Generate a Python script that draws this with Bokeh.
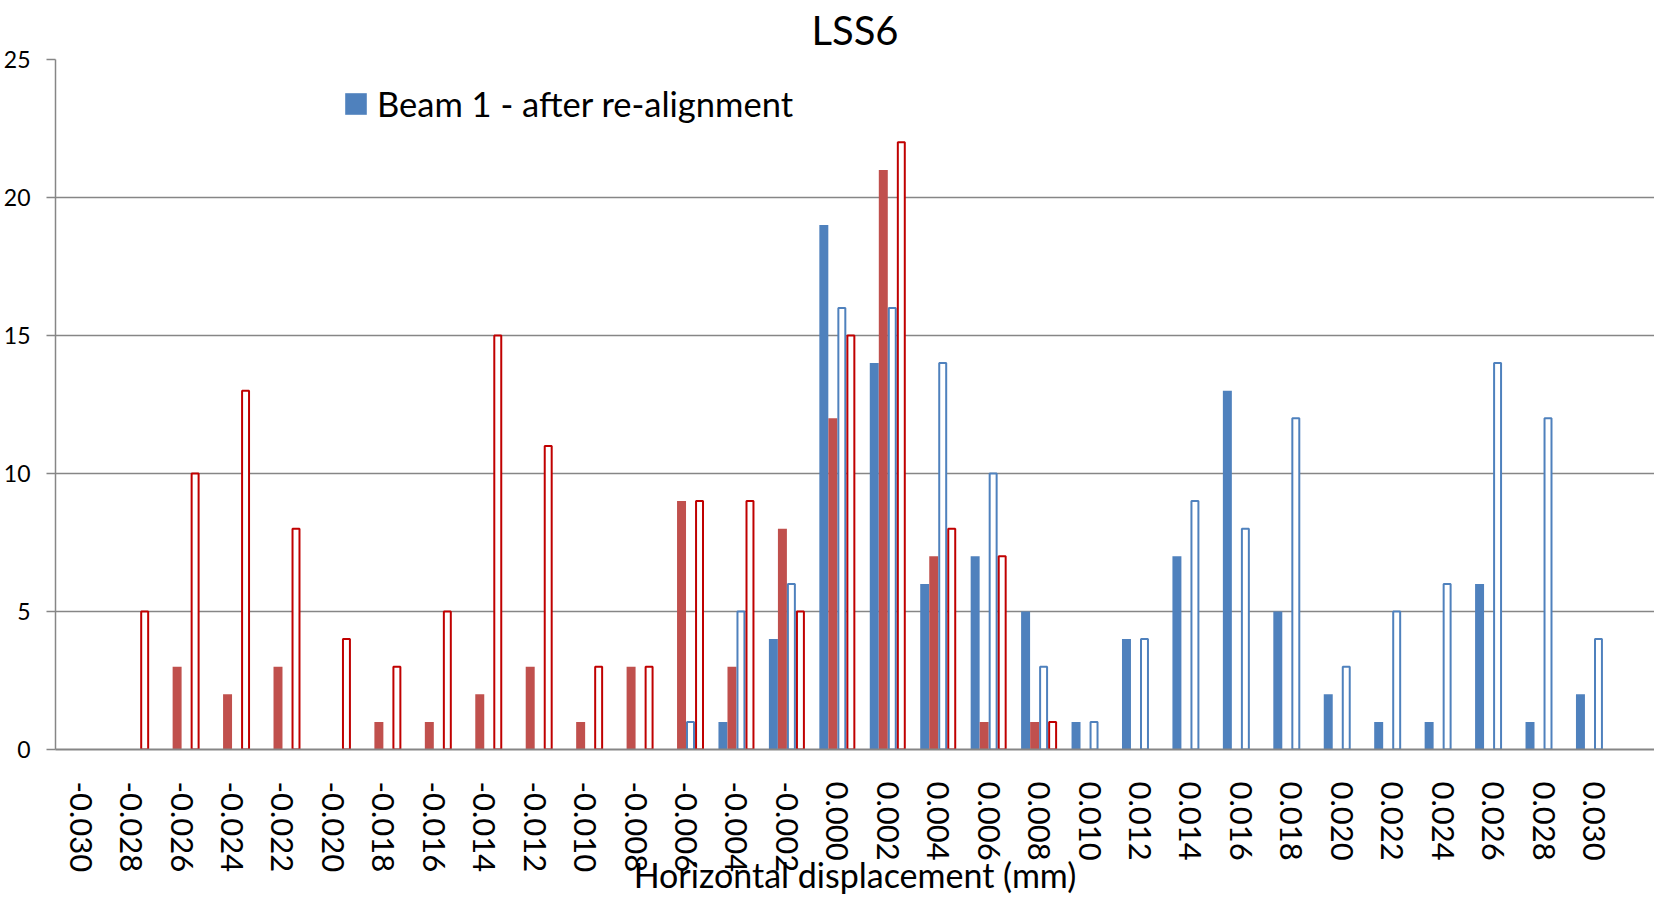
from bokeh.plotting import figure
from bokeh.models import ColumnDataSource, Range1d, FixedTicker, Legend
from bokeh.transform import dodge
from bokeh.embed import file_html
from bokeh.resources import INLINE

# ---- data -------------------------------------------------------------
categories = ["-0.030", "-0.028", "-0.026", "-0.024", "-0.022", "-0.020", "-0.018",
              "-0.016", "-0.014", "-0.012", "-0.010", "-0.008", "-0.006", "-0.004",
              "-0.002", "0.000", "0.002", "0.004", "0.006", "0.008", "0.010", "0.012",
              "0.014", "0.016", "0.018", "0.020", "0.022", "0.024", "0.026", "0.028",
              "0.030"]

beam1_after = [0, 0, 0, 0, 0, 0, 0, 0, 0, 0, 0, 0, 0, 1, 4, 19, 14, 6, 7, 5, 1, 4,
               7, 13, 5, 2, 1, 1, 6, 1, 2]
red_filled = [0, 0, 3, 2, 3, 0, 1, 1, 2, 3, 1, 3, 9, 3, 8, 12, 21, 7, 1, 1, 0, 0,
              0, 0, 0, 0, 0, 0, 0, 0, 0]
blue_outline = [0, 0, 0, 0, 0, 0, 0, 0, 0, 0, 0, 0, 1, 5, 6, 16, 16, 14, 10, 3, 1, 4,
                9, 8, 12, 3, 5, 6, 14, 12, 4]
red_outline = [0, 5, 10, 13, 8, 4, 3, 5, 15, 11, 3, 3, 9, 9, 5, 15, 22, 8, 7, 1, 0, 0,
               0, 0, 0, 0, 0, 0, 0, 0, 0]

y_ticks = [0, 5, 10, 15, 20, 25]
legend_text = "Beam 1 - after re-alignment"
title_text = "LSS6"
x_title = "Horizontal displacement (mm)"

FONT = "Lato"
positions = list(range(len(categories)))


def nonzero(vals):
    idx = [i for i, v in zip(positions, vals) if v > 0]
    tops = [v for v in vals if v > 0]
    return ColumnDataSource(dict(idx=idx, top=tops))


p = figure(width=1654, height=898, x_range=Range1d(-0.5, 31.2),
           y_range=Range1d(0, 25), output_backend="svg", toolbar_location=None,
           min_border_left=53, min_border_right=0, min_border_top=59,
           min_border_bottom=149, title=title_text)

p.title.align = "center"
p.title.vertical_align = "top"
p.title.text_font = FONT
p.title.text_font_size = "40px"
p.title.text_font_style = "normal"
p.title.text_color = "black"
p.title.standoff = 8
p.title.offset = -7

p.outline_line_color = None
p.background_fill_color = "white"

BLUE = "#4F81BD"
RED = "#C0504D"
DARKRED = "#C00000"
W = 0.178

r1 = p.vbar(x=dodge("idx", -0.268), top="top", bottom=0, width=W,
            source=nonzero(beam1_after), fill_color=BLUE, line_color=None)
p.vbar(x=dodge("idx", -0.089), top="top", bottom=0, width=W,
       source=nonzero(red_filled), fill_color=RED, line_color=None)
p.vbar(x=dodge("idx", 0.089), top="top", bottom=0, width=W - 0.04,
       source=nonzero(blue_outline), fill_color="white", line_color=BLUE, line_width=2)
p.vbar(x=dodge("idx", 0.268), top="top", bottom=0, width=W - 0.04,
       source=nonzero(red_outline), fill_color="white", line_color=DARKRED, line_width=2)

legend = Legend(items=[(legend_text, [r1])], location=(287, 625))
legend.label_text_font = FONT
legend.label_text_font_size = "34.5px"
legend.label_text_color = "black"
legend.glyph_width = 27
legend.glyph_height = 27
legend.label_standoff = 8
legend.padding = 0
legend.margin = 0
legend.border_line_color = None
legend.background_fill_alpha = 0
p.add_layout(legend, "center")

# axes
p.yaxis.ticker = FixedTicker(ticks=y_ticks)
p.yaxis.major_label_text_font = FONT
p.yaxis.major_label_text_font_size = "23px"
p.yaxis.major_label_text_color = "black"
p.yaxis.axis_line_color = "#868686"
p.yaxis.axis_line_width = 1.5
p.yaxis.major_tick_line_color = "#868686"
p.yaxis.major_tick_line_width = 1.5
p.yaxis.major_tick_out = 9
p.yaxis.major_tick_in = 0
p.yaxis.minor_tick_line_color = None
p.yaxis.major_label_standoff = 16

p.xaxis.ticker = FixedTicker(ticks=positions)
p.xaxis.major_label_overrides = {i: c for i, c in zip(positions, categories)}
p.xaxis.minor_tick_line_color = None
p.xaxis.major_label_orientation = "vertical"
p.xaxis.major_label_text_font = FONT
p.xaxis.major_label_text_font_size = "31px"
p.xaxis.major_label_text_color = "black"
p.xaxis.axis_line_color = "#868686"
p.xaxis.axis_line_width = 2
p.xaxis.major_tick_line_color = None
p.xaxis.major_tick_out = 0
p.xaxis.major_tick_in = 0
p.xaxis.major_label_standoff = 32
p.xaxis.axis_label = x_title
p.xaxis.axis_label_text_font = FONT
p.xaxis.axis_label_text_font_size = "34px"
p.xaxis.axis_label_text_font_style = "normal"
p.xaxis.axis_label_text_color = "black"
p.xaxis.axis_label_standoff = -21

p.xgrid.grid_line_color = None
p.ygrid.grid_line_color = "#868686"
p.ygrid.grid_line_width = 1.5
p.ygrid.ticker = FixedTicker(ticks=y_ticks)

open("out.html", "w").write(file_html(p, INLINE))
